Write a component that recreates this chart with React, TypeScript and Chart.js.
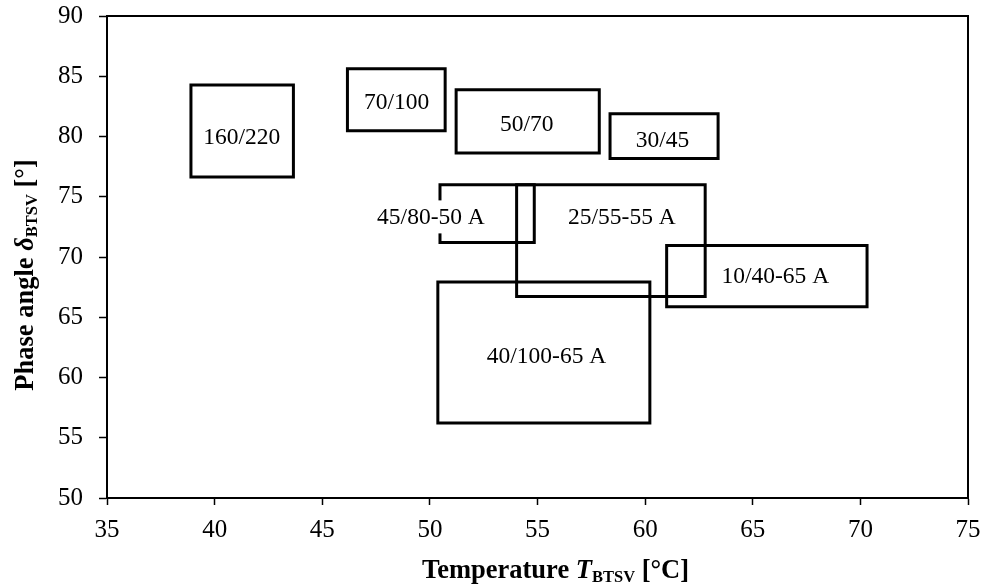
import React, { useEffect, useRef } from 'react';
import { Chart, registerables } from 'chart.js';

Chart.register(...registerables);

// ---- data ----
const boxNames = ['160/220', '70/100', '50/70', '30/45', '45/80-50 A', '25/55-55 A', '10/40-65 A', '40/100-65 A'];
const tempMin = [38.9, 46.17, 51.22, 58.37, 50.47, 54.03, 61.0, 50.37];
const tempMax = [43.66, 50.71, 57.87, 63.39, 54.85, 62.79, 70.31, 60.22];
const phaseMin = [76.64, 80.48, 78.63, 78.18, 71.21, 66.73, 65.88, 56.22];
const phaseMax = [84.27, 85.63, 83.88, 81.89, 76.0, 76.0, 70.96, 67.93];
const labelTemp = [41.26, 48.46, 54.5, 60.81, 50.05, 58.92, 66.05, 55.42];
const labelPhase = [80.01, 82.89, 81.12, 79.76, 73.37, 73.37, 68.45, 61.81];

const xTickValues = [35, 40, 45, 50, 55, 60, 65, 70, 75];
const yTickValues = [50, 55, 60, 65, 70, 75, 80, 85, 90];

const FONT = "'Liberation Serif', 'Times New Roman', serif";

const framePlugin = {
  id: 'frameAndText',
  afterDatasetsDraw(chart: any) {
    const { ctx, scales } = chart;
    const xs = scales.x;
    const ys = scales.y;
    ctx.save();
    const size = 23.5;
    ctx.font = `${size}px ${FONT}`;
    ctx.textAlign = 'center';
    ctx.textBaseline = 'alphabetic';
    boxNames.forEach((name, i) => {
      const px = xs.getPixelForValue(labelTemp[i]);
      const py = ys.getPixelForValue(labelPhase[i]);
      const w = ctx.measureText(name).width;
      ctx.fillStyle = '#fff';
      ctx.fillRect(px - w / 2 - 3, py - 16, w + 6, 33);
      ctx.fillStyle = '#000';
      ctx.fillText(name, px, py + size * 0.33);
    });
    ctx.restore();
  },
  afterDraw(chart: any) {
    const { ctx, chartArea } = chart;
    ctx.save();
    // plot frame
    ctx.strokeStyle = '#000';
    ctx.lineWidth = 2;
    ctx.strokeRect(chartArea.left, chartArea.top, chartArea.right - chartArea.left, chartArea.bottom - chartArea.top);

    const main = 26.5;
    const sub = 16.5;
    const drawRuns = (runs: { t: string; f: string; dy: number }[], startX: number, baseY: number) => {
      let x = startX;
      ctx.textAlign = 'left';
      ctx.textBaseline = 'alphabetic';
      ctx.fillStyle = '#000';
      runs.forEach((r) => {
        ctx.font = r.f;
        ctx.fillText(r.t, x, baseY + r.dy);
        x += ctx.measureText(r.t).width;
      });
    };
    const measureRuns = (runs: { t: string; f: string; dy: number }[]) => {
      let w = 0;
      runs.forEach((r) => {
        ctx.font = r.f;
        w += ctx.measureText(r.t).width;
      });
      return w;
    };

    // x title
    const xRuns = [
      { t: 'Temperature ', f: `bold ${main}px ${FONT}`, dy: 0 },
      { t: 'T', f: `italic bold ${main}px ${FONT}`, dy: 0 },
      { t: 'BTSV', f: `bold ${sub}px ${FONT}`, dy: 4 },
      { t: ' [°C]', f: `bold ${main}px ${FONT}`, dy: 0 },
    ];
    const xw = measureRuns(xRuns);
    const xc = (chartArea.left + chartArea.right) / 2 + 18;
    drawRuns(xRuns, xc - xw / 2, 578);

    // y title
    const yRuns = [
      { t: 'Phase angle ', f: `bold ${main}px ${FONT}`, dy: 0 },
      { t: 'δ', f: `italic bold ${main}px ${FONT}`, dy: 0 },
      { t: 'BTSV', f: `bold ${sub}px ${FONT}`, dy: 4 },
      { t: ' [°]', f: `bold ${main}px ${FONT}`, dy: 0 },
    ];
    const yw = measureRuns(yRuns);
    const yc = (chartArea.top + chartArea.bottom) / 2 + 18;
    ctx.translate(33, yc);
    ctx.rotate(-Math.PI / 2);
    drawRuns(yRuns, -yw / 2, 0);
    ctx.restore();
  },
};

export default function App() {
  const ref = useRef<HTMLCanvasElement>(null);

  useEffect(() => {
    if (!ref.current) return;
    const datasets = boxNames.map((name, i) => ({
      label: name,
      data: [
        { x: tempMin[i], y: phaseMin[i] },
        { x: tempMax[i], y: phaseMin[i] },
        { x: tempMax[i], y: phaseMax[i] },
        { x: tempMin[i], y: phaseMax[i] },
        { x: tempMin[i], y: phaseMin[i] },
      ],
      showLine: true,
      borderColor: '#000',
      backgroundColor: '#000',
      borderWidth: 3,
      borderJoinStyle: 'miter' as const,
      borderCapStyle: 'square' as const,
      pointRadius: 0,
      pointHoverRadius: 0,
      fill: false,
      tension: 0,
    }));

    const tickFont = { family: FONT, size: 25 };
    const chart = new Chart(ref.current, {
      type: 'scatter',
      data: { datasets },
      options: {
        animation: false,
        responsive: false,
        devicePixelRatio: 1,
        layout: { padding: 0 },
        plugins: { legend: { display: false }, tooltip: { enabled: false } },
        scales: {
          x: {
            type: 'linear',
            min: 35,
            max: 75,
            afterBuildTicks: (s: any) => {
              s.ticks = xTickValues.map((v) => ({ value: v }));
            },
            afterFit: (s: any) => {
              s.height = 87;
              s.paddingRight = 16;
              s.paddingLeft = 0;
            },
            ticks: { font: tickFont, color: '#000', padding: 10 },
            grid: { drawOnChartArea: false, drawTicks: true, tickLength: 7, tickColor: '#000', tickWidth: 1.5 },
            border: { color: '#000', width: 2 },
          },
          y: {
            type: 'linear',
            min: 50,
            max: 90,
            afterBuildTicks: (s: any) => {
              s.ticks = yTickValues.map((v) => ({ value: v }));
            },
            afterFit: (s: any) => {
              s.width = 107;
              s.paddingTop = 16;
              s.paddingBottom = 0;
            },
            ticks: { font: tickFont, color: '#000', padding: 16 },
            grid: { drawOnChartArea: false, drawTicks: true, tickLength: 8, tickColor: '#000', tickWidth: 1.5 },
            border: { color: '#000', width: 2 },
          },
        },
      },
      plugins: [framePlugin],
    } as any);
    return () => chart.destroy();
  }, []);

  return (
    <div style={{ position: 'fixed', left: 0, top: 0, width: 984, height: 585, background: '#fff' }}>
      <canvas ref={ref} width={984} height={585} style={{ display: 'block' }} />
    </div>
  );
}
